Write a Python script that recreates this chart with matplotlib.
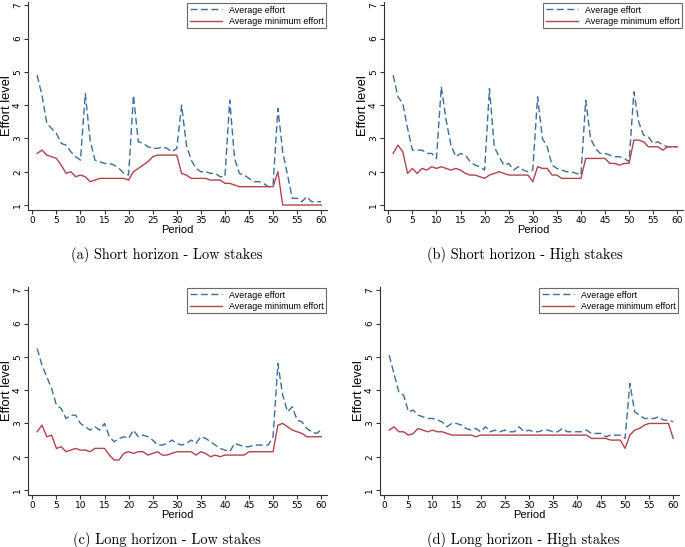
import matplotlib
matplotlib.use('Agg')
import matplotlib.pyplot as plt
import numpy as np

periods = np.arange(1, 61)

# (a) Short horizon - Low stakes
avg_a = [4.9, 4.3, 3.45, 3.3, 3.15, 2.85, 2.8, 2.6, 2.45, 2.35,
         4.35, 2.95, 2.35, 2.3, 2.25, 2.25, 2.2, 2.1, 1.95, 1.9,
         4.3, 2.9, 2.85, 2.75, 2.7, 2.7, 2.75, 2.7, 2.6, 2.7,
         4.0, 2.8, 2.35, 2.1, 2.0, 2.0, 1.95, 1.95, 1.85, 1.85,
         4.15, 2.4, 1.95, 1.9, 1.8, 1.7, 1.7, 1.65, 1.55, 1.6,
         3.9, 2.6, 1.9, 1.2, 1.2, 1.1, 1.25, 1.1, 1.1, 1.1]
min_a = [2.55, 2.65, 2.5, 2.45, 2.4, 2.2, 1.95, 2.0, 1.85, 1.9,
         1.85, 1.7, 1.75, 1.8, 1.8, 1.8, 1.8, 1.8, 1.8, 1.75,
         2.0, 2.1, 2.2, 2.3, 2.45, 2.5, 2.5, 2.5, 2.5, 2.5,
         1.95, 1.9, 1.8, 1.8, 1.8, 1.8, 1.75, 1.75, 1.75, 1.65,
         1.65, 1.6, 1.55, 1.55, 1.55, 1.55, 1.55, 1.55, 1.55, 1.55,
         2.0, 1.0, 1.0, 1.0, 1.0, 1.0, 1.0, 1.0, 1.0, 1.0]

# (b) Short horizon - High stakes
avg_b = [4.9, 4.25, 4.05, 3.3, 2.65, 2.65, 2.65, 2.55, 2.55, 2.4,
         4.55, 3.55, 2.8, 2.45, 2.55, 2.5, 2.3, 2.2, 2.15, 2.05,
         4.5, 2.75, 2.45, 2.2, 2.25, 2.05, 2.15, 2.05, 2.0, 2.05,
         4.25, 3.0, 2.75, 2.2, 2.1, 2.05, 2.0, 2.0, 1.95, 1.9,
         4.15, 3.0, 2.7, 2.55, 2.55, 2.5, 2.45, 2.45, 2.4, 2.3,
         4.4, 3.5, 3.1, 3.05, 2.85, 2.9, 2.8, 2.75, 2.75, 2.75]
min_b = [2.55, 2.8, 2.6, 1.95, 2.1, 1.95, 2.1, 2.05, 2.15, 2.1,
         2.15, 2.1, 2.05, 2.1, 2.05, 1.95, 1.9, 1.9, 1.85, 1.8,
         1.9, 1.95, 2.0, 1.95, 1.9, 1.9, 1.9, 1.9, 1.9, 1.7,
         2.15, 2.1, 2.1, 1.9, 1.9, 1.8, 1.8, 1.8, 1.8, 1.8,
         2.4, 2.4, 2.4, 2.4, 2.4, 2.25, 2.25, 2.2, 2.25, 2.25,
         2.95, 2.95, 2.9, 2.75, 2.75, 2.75, 2.65, 2.75, 2.75, 2.75]

# (c) Long horizon - Low stakes
avg_c = [5.25, 4.75, 4.4, 4.05, 3.55, 3.45, 3.15, 3.25, 3.25, 3.0,
         2.9, 2.8, 2.9, 2.8, 3.0, 2.6, 2.45, 2.55, 2.6, 2.55,
         2.8, 2.6, 2.65, 2.6, 2.5, 2.35, 2.35, 2.4, 2.5, 2.4,
         2.35, 2.4, 2.5, 2.4, 2.6, 2.55, 2.45, 2.35, 2.25, 2.2,
         2.15, 2.4, 2.35, 2.3, 2.3, 2.35, 2.35, 2.35, 2.35, 2.6,
         4.8, 3.85, 3.35, 3.5, 3.1, 3.05, 2.85, 2.75, 2.7, 2.8]
min_c = [2.75, 2.95, 2.6, 2.65, 2.25, 2.3, 2.15, 2.2, 2.25, 2.2,
         2.2, 2.15, 2.25, 2.25, 2.25, 2.05, 1.9, 1.9, 2.1, 2.15,
         2.1, 2.15, 2.15, 2.05, 2.1, 2.15, 2.05, 2.05, 2.1, 2.15,
         2.15, 2.15, 2.15, 2.05, 2.15, 2.1, 2.0, 2.05, 2.0, 2.05,
         2.05, 2.05, 2.05, 2.05, 2.15, 2.15, 2.15, 2.15, 2.15, 2.15,
         2.95, 3.0, 2.9, 2.8, 2.75, 2.7, 2.6, 2.6, 2.6, 2.6]

# (d) Long horizon - High stakes
avg_d = [5.05, 4.5, 3.95, 3.85, 3.35, 3.4, 3.25, 3.2, 3.15, 3.15,
         3.1, 3.05, 2.9, 3.0, 3.0, 2.95, 2.85, 2.8, 2.85, 2.75,
         2.9, 2.75, 2.8, 2.75, 2.8, 2.75, 2.75, 2.9, 2.75, 2.8,
         2.75, 2.75, 2.8, 2.8, 2.75, 2.75, 2.85, 2.75, 2.75, 2.75,
         2.75, 2.8, 2.7, 2.7, 2.7, 2.6, 2.65, 2.65, 2.65, 2.55,
         4.2, 3.35, 3.25, 3.15, 3.15, 3.15, 3.2, 3.1, 3.1, 3.05]
min_d = [2.8, 2.9, 2.75, 2.75, 2.65, 2.7, 2.85, 2.8, 2.75, 2.8,
         2.75, 2.75, 2.7, 2.65, 2.65, 2.65, 2.65, 2.65, 2.6, 2.65,
         2.65, 2.65, 2.65, 2.65, 2.65, 2.65, 2.65, 2.65, 2.65, 2.65,
         2.65, 2.65, 2.65, 2.65, 2.65, 2.65, 2.65, 2.65, 2.65, 2.65,
         2.65, 2.65, 2.55, 2.55, 2.55, 2.55, 2.5, 2.5, 2.5, 2.25,
         2.65, 2.8, 2.85, 2.95, 3.0, 3.0, 3.0, 3.0, 3.0, 2.55]

captions = ['(a) Short horizon - Low stakes', '(b) Short horizon - High stakes',
            '(c) Long horizon - Low stakes', '(d) Long horizon - High stakes']
series = [(avg_a, min_a), (avg_b, min_b), (avg_c, min_c), (avg_d, min_d)]

W, H = 685, 547
# axes boxes in pixels: left, top, width, height
boxes = [(28, 2, 299, 208), (384, 2, 299, 208),
         (28, 287, 299, 208), (380, 287, 299, 208)]
cap_pos = [(167, 255), (525, 255), (167, 540), (523, 540)]

blue = '#3f6d9e'
red = '#b3434c'

fig = plt.figure(figsize=(W / 100, H / 100), dpi=100)
for (avg, mn), (l, t, w, h), cap, (cx, cy) in zip(series, boxes, captions, cap_pos):
    ax = fig.add_axes([l / W, 1 - (t + h) / H, w / W, h / H])
    ax.plot(periods, avg, color=blue, lw=1.0, dashes=(5, 2.5), label='Average effort')
    ax.plot(periods, mn, color=red, lw=1.0, label='Average minimum effort')
    ax.set_xlim(-0.9, 61.2)
    ax.set_ylim(0.85, 7.1)
    ax.set_xticks(range(0, 61, 5))
    ax.set_yticks(range(1, 8))
    ax.spines['top'].set_visible(False)
    ax.spines['right'].set_visible(False)
    ax.spines['left'].set_color('#333333')
    ax.spines['bottom'].set_color('#333333')
    ax.tick_params(labelsize=6.5, length=2.8, color='#333333', pad=1.5)
    for lab in ax.get_yticklabels():
        lab.set_rotation(90)
        lab.set_va('center')
    ax.set_xlabel('Period', fontsize=8, family='Liberation Sans')
    ax.xaxis.set_label_coords(0.5, -15 / h)
    ax.set_ylabel('Effort level', fontsize=9.3, family='Liberation Sans')
    ax.yaxis.set_label_coords(-15 / w, 0.5)
    leg = ax.legend(loc='upper right', prop={'family': 'Liberation Sans', 'size': 6.4},
                    frameon=True, fancybox=False, borderaxespad=0.1,
                    handlelength=3.6, borderpad=0.3, labelspacing=0.25)
    leg.get_frame().set_edgecolor('#444444')
    leg.get_frame().set_linewidth(0.8)
    fig.text(cx / W, 1 - cy / H, cap, ha='center', va='center',
             family='cmr10', fontsize=10.4)

plt.savefig('out.png', dpi=100)
